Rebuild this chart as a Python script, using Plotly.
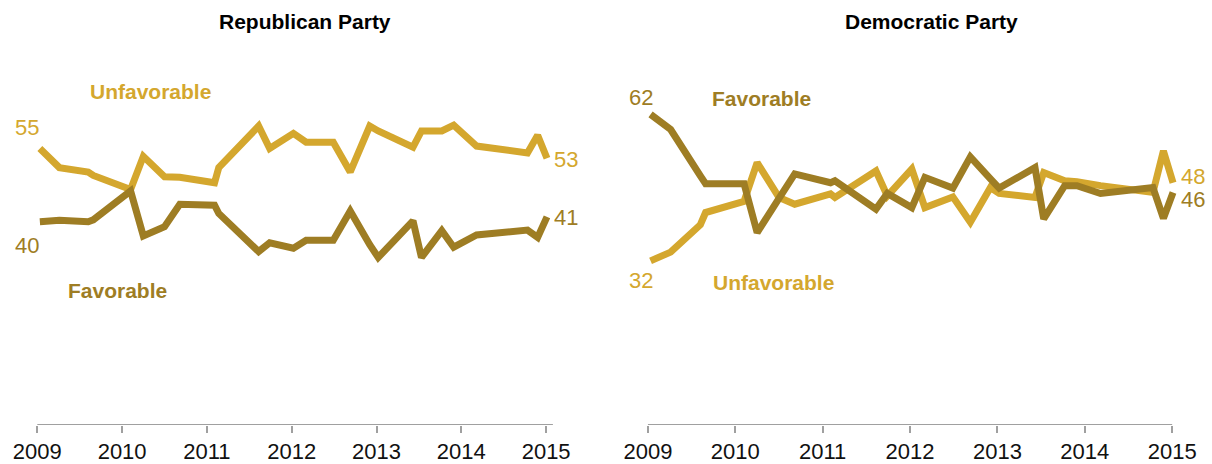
import plotly.graph_objects as go

# Survey dates (decimal years), shared by both panels
dates = [2009.03, 2009.26, 2009.60, 2009.66, 2010.10, 2010.25, 2010.50, 2010.68,
         2011.09, 2011.14, 2011.61, 2011.74, 2012.02, 2012.17, 2012.49, 2012.69,
         2012.92, 2013.02, 2013.43, 2013.53, 2013.77, 2013.91, 2014.18, 2014.78,
         2014.90, 2015.01]

rep_unfav = [55, 51.1, 50.2, 49.5, 46.6, 53.4, 49.2, 49.1, 48.0, 51.1, 59.6, 55.0,
             58.1, 56.3, 56.3, 50.2, 59.6, 58.6, 55.3, 58.6, 58.6, 59.8, 55.5, 54.1,
             57.7, 53]
rep_fav = [40, 40.3, 40.0, 40.4, 46.3, 37.1, 39.0, 43.6, 43.4, 41.7, 33.9, 35.7,
           34.6, 36.2, 36.2, 42.2, 35.3, 32.7, 40.2, 32.7, 38.2, 34.8, 37.3, 38.3,
           36.8, 41]
dem_fav = [62, 58.9, 49.4, 47.8, 47.8, 37.8, 44.8, 49.8, 48.0, 48.4, 42.6, 45.8,
           42.9, 49.1, 46.9, 53.3, 48.8, 46.9, 51.1, 40.6, 47.4, 47.4, 45.8, 47.0,
           40.7, 46]
dem_unfav = [32, 33.8, 39.4, 41.9, 44.2, 52.1, 45.0, 43.6, 45.7, 45.0, 50.4, 45.3,
             50.8, 42.9, 45.1, 39.9, 47.0, 45.8, 45.0, 50.1, 48.4, 48.2, 47.4, 46.0,
             54.5, 48]

tick_years = [2009, 2010, 2011, 2012, 2013, 2014, 2015]
tick_labels = [str(y) for y in tick_years]
panel_titles = ["Republican Party", "Democratic Party"]

UNFAV = "#D4A72E"
FAV = "#9E7D24"
AXIS = "#A0A0A0"
FONT = "Liberation Sans, Arial, sans-serif"

fig = go.Figure()

def add_line(x, y, color, xa, ya):
    fig.add_trace(go.Scatter(x=x, y=y, mode="lines", xaxis=xa, yaxis=ya,
                             line=dict(color=color, width=7),
                             hoverinfo="skip", showlegend=False))

add_line(dates, rep_unfav, UNFAV, "x", "y")
add_line(dates, rep_fav, FAV, "x", "y")
add_line(dates, dem_unfav, UNFAV, "x2", "y2")
add_line(dates, dem_fav, FAV, "x2", "y2")

ymin, ymax = -1.6, 85
axis_common = dict(tickvals=tick_years, ticktext=tick_labels, ticks="outside",
                   ticklen=7, tickwidth=2, tickcolor=AXIS, showline=False,
                   showgrid=False, zeroline=False,
                   tickfont=dict(family=FONT, size=22, color="#111111"))
fig.update_layout(
    width=1212, height=464,
    margin=dict(l=0, r=0, t=2, b=39),
    paper_bgcolor="white", plot_bgcolor="white",
    xaxis=dict(domain=[0, 0.5], range=[2008.560, 2015.706], **axis_common),
    xaxis2=dict(domain=[0.5, 1], range=[2008.520, 2015.456], **axis_common),
    yaxis=dict(range=[ymin, ymax], visible=False),
    yaxis2=dict(range=[ymin, ymax], visible=False, anchor="x2"),
    showlegend=False,
)

# baseline axis lines
fig.add_shape(type="line", xref="x", yref="y", x0=2009, x1=2015.08, y0=ymin, y1=ymin,
              line=dict(color=AXIS, width=2))
fig.add_shape(type="line", xref="x2", yref="y2", x0=2009, x1=2015.0, y0=ymin, y1=ymin,
              line=dict(color=AXIS, width=2))

ann = []
# panel titles
ann.append(dict(text="<b>%s</b>" % panel_titles[0], x=2009 + (305 - 37.3) / 84.8, y=1,
                xref="x", yref="paper", yanchor="top", yshift=-6, showarrow=False,
                font=dict(family=FONT, size=21, color="black")))
ann.append(dict(text="<b>%s</b>" % panel_titles[1], x=2009 + (931 - 647.9) / 87.37, y=1,
                xref="x2", yref="paper", yanchor="top", yshift=-6, showarrow=False,
                font=dict(family=FONT, size=21, color="black")))

def val_label(xa, ya, x, y, color, xshift, yshift):
    ann.append(dict(text=str(round(y)), x=x, y=y, xref=xa, yref=ya, showarrow=False,
                    xshift=xshift, yshift=yshift,
                    font=dict(family=FONT, size=22, color=color)))

val_label("x", "y", dates[0], rep_unfav[0], UNFAV, -13, 21)
val_label("x", "y", dates[0], rep_fav[0], FAV, -13, -24)
val_label("x", "y", dates[-1], rep_unfav[-1], UNFAV, 19, -1)
val_label("x", "y", dates[-1], rep_fav[-1], FAV, 19, -1)
val_label("x2", "y2", dates[0], dem_fav[0], FAV, -10, 17)
val_label("x2", "y2", dates[0], dem_unfav[0], UNFAV, -10, -20)
val_label("x2", "y2", dates[-1], dem_unfav[-1], UNFAV, 20, 6)
val_label("x2", "y2", dates[-1], dem_fav[-1], FAV, 20, -7)

def series_label(xa, ya, text, px, val, color, scale, x0px):
    ann.append(dict(text="<b>%s</b>" % text, x=2009 + (px - x0px) / scale, y=val,
                    xref=xa, yref=ya, showarrow=False,
                    font=dict(family=FONT, size=21, color=color)))

series_label("x", "y", "Unfavorable", 150.5, 55 - (91.5 - 148.3) / 4.89, UNFAV, 84.8, 37.3)
series_label("x", "y", "Favorable", 117.5, 55 - (290 - 148.3) / 4.89, FAV, 84.8, 37.3)
series_label("x2", "y2", "Favorable", 761, 62 - (97 - 113.3) / 4.9, FAV, 87.37, 647.9)
series_label("x2", "y2", "Unfavorable", 773, 62 - (282 - 113.3) / 4.9, UNFAV, 87.37, 647.9)

fig.update_layout(annotations=ann)
fig.write_html("out.html", config={"displayModeBar": False},
               post_script="document.body.style.margin='0';")
